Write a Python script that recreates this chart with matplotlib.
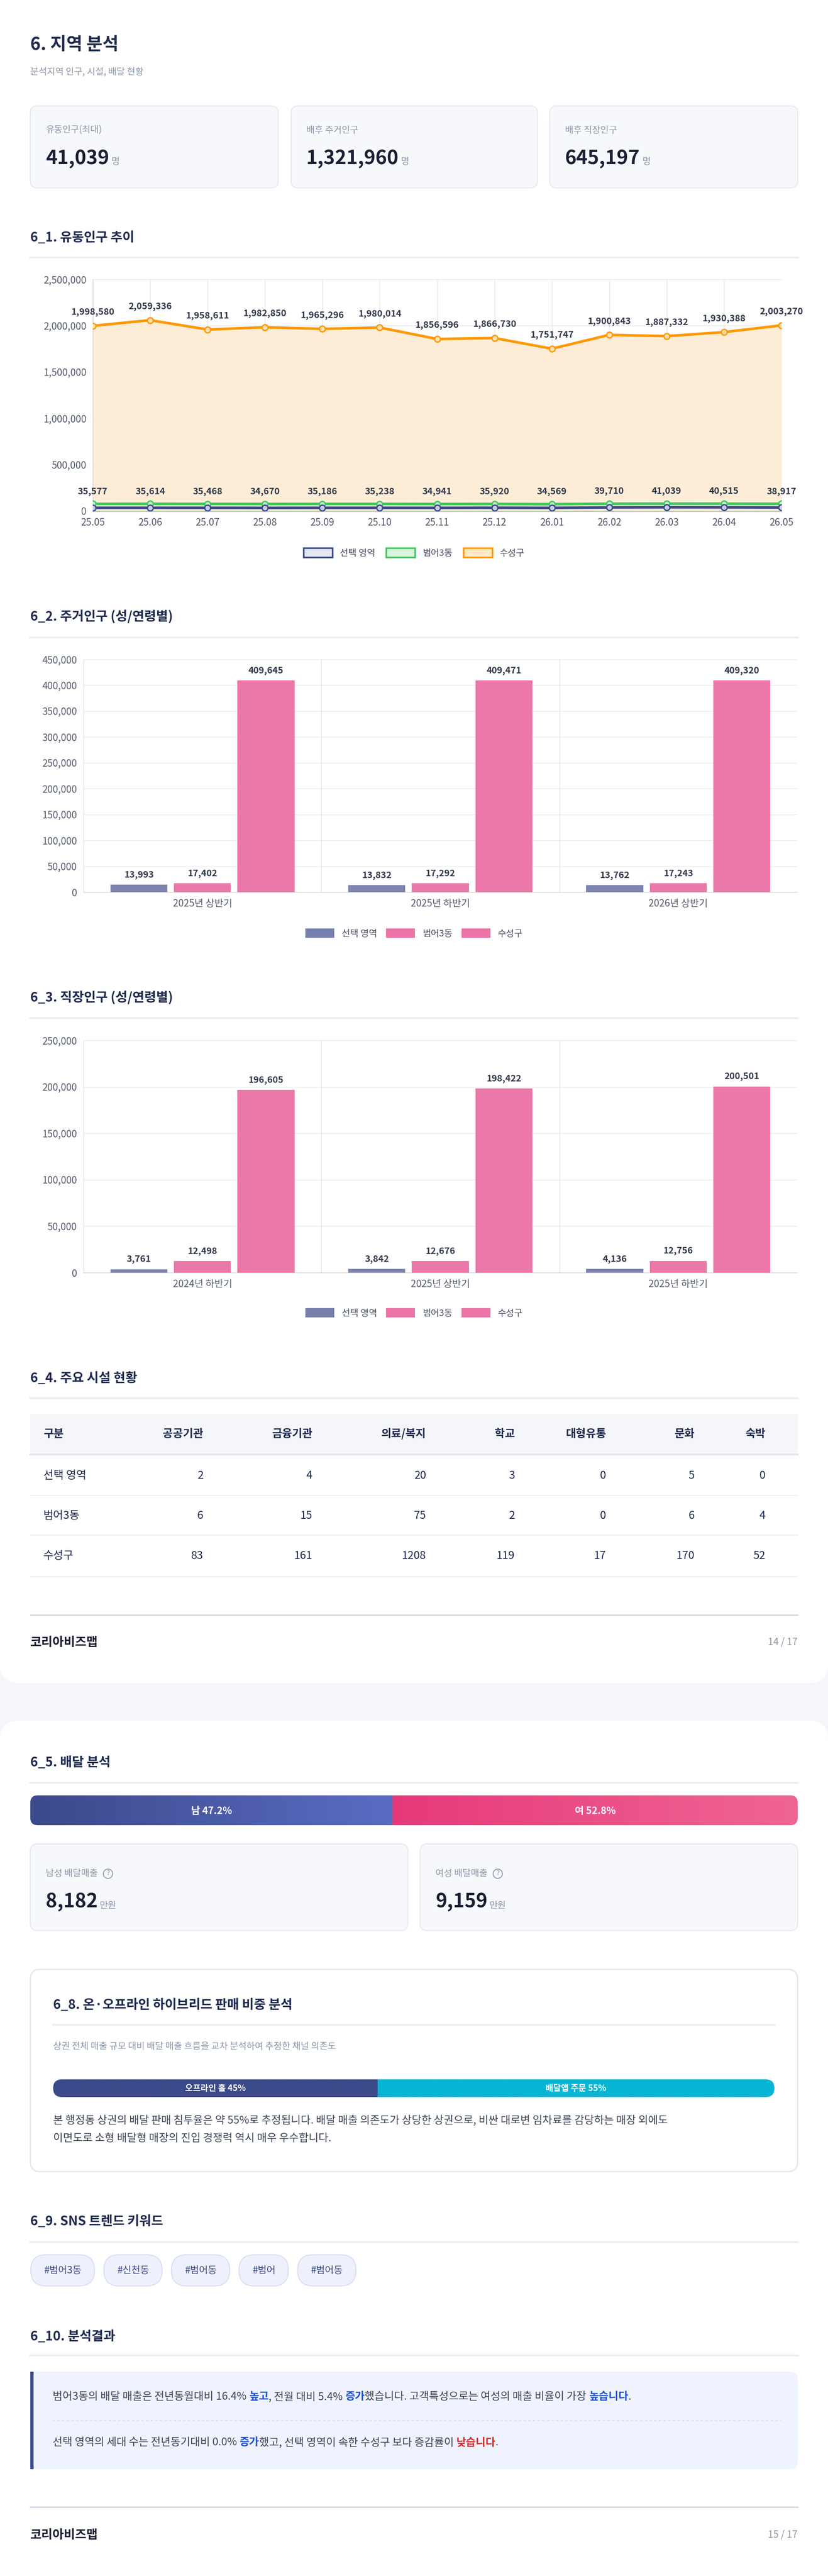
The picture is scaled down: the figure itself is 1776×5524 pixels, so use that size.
import matplotlib
matplotlib.use("Agg")
import matplotlib.pyplot as plt
import numpy as np
from matplotlib.patches import FancyBboxPatch, Rectangle, Patch
from matplotlib.ticker import FuncFormatter, MultipleLocator

plt.rcParams['font.family'] = ['Noto Sans CJK KR', 'DejaVu Sans']

W, H = 1776, 5524
# ---------------- data ----------------
stat_labels = ['유동인구(최대)', '배후 주거인구', '배후 직장인구']
stat_values = ['41,039', '1,321,960', '645,197']

months = ['25.05', '25.06', '25.07', '25.08', '25.09', '25.10', '25.11', '25.12',
          '26.01', '26.02', '26.03', '26.04', '26.05']
suseong_float = [1998580, 2059336, 1958611, 1982850, 1965296, 1980014, 1856596, 1866730,
                 1751747, 1900843, 1887332, 1930388, 2003270]
beomeo_float = [78000, 78500, 77800, 76900, 77500, 77600, 76400, 77200, 74800, 79800, 80500, 80100, 79000]
select_float = [35577, 35614, 35468, 34670, 35186, 35238, 34941, 35920, 34569, 39710, 41039, 40515, 38917]

series_names = ['선택 영역', '범어3동', '수성구']
res_periods = ['2025년 상반기', '2025년 하반기', '2026년 상반기']
res_select = [13993, 13832, 13762]
res_beomeo = [17402, 17292, 17243]
res_suseong = [409645, 409471, 409320]

work_periods = ['2024년 하반기', '2025년 상반기', '2025년 하반기']
work_select = [3761, 3842, 4136]
work_beomeo = [12498, 12676, 12756]
work_suseong = [196605, 198422, 200501]

fac_cols = ['공공기관', '금융기관', '의료/복지', '학교', '대형유통', '문화', '숙박']
fac_rows = ['선택 영역', '범어3동', '수성구']
fac_vals = [[2, 4, 20, 3, 0, 5, 0],
            [6, 15, 75, 2, 0, 6, 4],
            [83, 161, 1208, 119, 17, 170, 52]]

male_pct, female_pct = 47.2, 52.8
male_sales, female_sales = '8,182', '9,159'
offline_pct, app_pct = 45, 55
sns_tags = ['#범어3동', '#신천동', '#범어동', '#범어', '#범어동']

# ---------------- style ----------------
NAVY = '#3b4a8a'
DARK = '#1e2a4f'
GRAY = '#8a94a6'
TXT = '#3a4256'
ORANGE = '#ff9800'
GREEN = '#3ec95c'
SEL = '#7880ad'
PINK = '#ec74a6'

fig = plt.figure(figsize=(W / 100, H / 100), dpi=100)
fig.patch.set_facecolor('#f4f6fa')
L = fig.add_axes([0, 0, 1, 1])
L.set_xlim(0, W); L.set_ylim(H, 0); L.axis('off')


def rbox(x0, y0, x1, y1, fc, ec='none', r=18, lw=1.5, z=1):
    p = FancyBboxPatch((x0, y0), x1 - x0, y1 - y0, boxstyle=f"round,pad=0,rounding_size={r}",
                       fc=fc, ec=ec, lw=lw, zorder=z, mutation_aspect=1)
    L.add_patch(p)
    return p


def T(x, y, s, size, color=TXT, weight='normal', ha='left', va='center', z=5):
    return L.text(x, y, s, fontsize=size, color=color, fontweight=weight, ha=ha, va=va, zorder=z)


def section(y, title, x0=65, x1=1711, ry=None):
    T(x0, y, title, 20, DARK, 'bold')
    L.plot([x0, x1], [ry, ry], color='#eceef3', lw=3, zorder=3)


def add_ax(x0, y0, x1, y1):
    return fig.add_axes([x0 / W, 1 - y1 / H, (x1 - x0) / W, (y1 - y0) / H])


comma = FuncFormatter(lambda v, p: f'{int(v):,}')

# cards
rbox(0, -40, W, 3609, 'white', r=40)
rbox(0, 3690, W, H + 40, 'white', r=40)

T(65, 95, '6. 지역 분석', 27, DARK, 'bold')
T(65, 155, '분석지역 인구, 시설, 배달 현황', 14, GRAY)
cards = [(65, 597), (624, 1153), (1179, 1711)]
for (a, b), lab, val in zip(cards, stat_labels, stat_values):
    rbox(a, 227, b, 403, '#f7f8fc', '#e6e9f0', r=16)
    T(a + 33, 279, lab, 14, GRAY)
    t = T(a + 33, 340, val, 30, '#1a1f33', 'bold')
    fig.canvas.draw()
    bb = t.get_window_extent()
    T(a + 33 + bb.width + 4, 346, '명', 14, GRAY)

# ---------------- 6_1 line chart ----------------
section(510, '6_1. 유동인구 추이', ry=552)
ax = add_ax(199, 599, 1676, 1096)
x = np.arange(len(months))
ax.fill_between(x, suseong_float, color='#fdebd3', alpha=0.9, zorder=1)
ax.plot(x, suseong_float, color=ORANGE, lw=4, marker='o', ms=9, mfc='#ffe0b0', mec=ORANGE, mew=2, zorder=4)
ax.plot(x, beomeo_float, color=GREEN, lw=4, marker='o', ms=9, mfc='#c8f0d0', mec=GREEN, mew=2, zorder=4)
ax.plot(x, select_float, color=NAVY, lw=4, marker='o', ms=9, mfc='#c8cde8', mec=NAVY, mew=2, zorder=5)
for i, v in enumerate(suseong_float):
    ax.annotate(f'{v:,}', (i, v), xytext=(0, 14), textcoords='offset points', ha='center', va='bottom',
                fontsize=14, fontweight='bold', color='#333a4d', annotation_clip=False)
for i, v in enumerate(select_float):
    ax.annotate(f'{v:,}', (i, beomeo_float[i]), xytext=(0, 12), textcoords='offset points', ha='center',
                va='bottom', fontsize=14, fontweight='bold', color='#333a4d', annotation_clip=False)
ax.set_xlim(0, len(months) - 1)
ax.set_ylim(0, 2500000)
ax.yaxis.set_major_locator(MultipleLocator(500000))
ax.yaxis.set_major_formatter(comma)
ax.set_xticks(x); ax.set_xticklabels(months)
ax.grid(True, color='#e6e6e6', lw=1)
ax.set_axisbelow(True)
ax.tick_params(labelsize=15, colors='#555c6e', length=0, pad=10)
for s in ['top', 'right']:
    ax.spines[s].set_visible(False)
ax.spines['left'].set_color('#d0d0d0'); ax.spines['bottom'].set_color('#888888')
ax.set_facecolor('white')
hand = [Patch(fc='#e4e7f3', ec=NAVY, lw=2.5), Patch(fc='#d6f5dc', ec=GREEN, lw=2.5),
        Patch(fc='#ffe9c8', ec=ORANGE, lw=2.5)]
fig.legend(hand, series_names, loc='center', bbox_to_anchor=(888 / W, 1 - 1186 / H), ncol=3, frameon=False,
           fontsize=14, handlelength=3.2, handleheight=1.2, columnspacing=1.2, labelcolor='#444b5e')


# ---------------- bar charts ----------------
def bar_chart(y0, y1, periods, s1, s2, s3, ymax, step, legy):
    ax = add_ax(179, y0, 1710, y1)
    xs = np.arange(len(periods))
    w, off = 0.24, 0.267
    for vals, o, c in [(s1, -off, SEL), (s2, 0, PINK), (s3, off, PINK)]:
        bars = ax.bar(xs + o, vals, width=w, color=c, alpha=0.97, zorder=3)
        for b, v in zip(bars, vals):
            ax.annotate(f'{v:,}', (b.get_x() + w / 2, v), xytext=(0, 8), textcoords='offset points',
                        ha='center', va='bottom', fontsize=14, fontweight='bold', color='#333a4d')
    ax.set_xlim(-0.5, len(periods) - 0.5)
    ax.set_ylim(0, ymax)
    ax.yaxis.set_major_locator(MultipleLocator(step))
    ax.yaxis.set_major_formatter(comma)
    ax.set_xticks(xs); ax.set_xticklabels(periods)
    ax.grid(True, axis='y', color='#e8e8e8', lw=1)
    for b in [0.5, 1.5]:
        ax.axvline(b, color='#e3e3e3', lw=1, zorder=1)
    ax.set_axisbelow(True)
    ax.tick_params(labelsize=15, colors='#555c6e', length=0, pad=10)
    for s in ['top', 'right']:
        ax.spines[s].set_visible(False)
    ax.spines['left'].set_color('#dddddd'); ax.spines['bottom'].set_color('#cccccc')
    hand = [Patch(fc=SEL), Patch(fc=PINK), Patch(fc=PINK)]
    fig.legend(hand, series_names, loc='center', bbox_to_anchor=(888 / W, 1 - legy / H), ncol=3,
               frameon=False, fontsize=14, handlelength=3.2, handleheight=1.2, columnspacing=1.0,
               labelcolor='#444b5e')


section(1323, '6_2. 주거인구 (성/연령별)', ry=1367)
bar_chart(1414, 1913, res_periods, res_select, res_beomeo, res_suseong, 450000, 50000, 2002)
section(2140, '6_3. 직장인구 (성/연령별)', ry=2183)
bar_chart(2231, 2729, work_periods, work_select, work_beomeo, work_suseong, 250000, 50000, 2816)

# ---------------- 6_4 table ----------------
section(2956, '6_4. 주요 시설 현황', ry=2998)
L.add_patch(Rectangle((65, 3032), 1646, 87, fc='#f4f6fa', ec='none', zorder=2))
L.plot([65, 1711], [3119, 3119], color='#e2e6ee', lw=3, zorder=3)
col_r = [436, 670, 914, 1104, 1300, 1490, 1642]
T(93, 3075, '구분', 17, DARK, 'bold')
for cx, c in zip(col_r, fac_cols):
    T(cx, 3075, c, 17, DARK, 'bold', ha='right')
row_y = [3164, 3250, 3336]
sep_y = [3207, 3292, 3381]
for ry, rn, vals, sy in zip(row_y, fac_rows, fac_vals, sep_y):
    T(93, ry, rn, 17, DARK)
    for cx, v in zip(col_r, vals):
        T(cx, ry, str(v), 17, DARK, ha='right')
    L.plot([65, 1711], [sy, sy], color='#eceef3', lw=1.5, zorder=3)
L.plot([65, 1711], [3463, 3463], color='#cfd6e2', lw=2, zorder=3)
T(65, 3522, '코리아비즈맵', 19, '#1a1f33', 'bold')
T(1711, 3522, '14 / 17', 15, GRAY, ha='right')

# ---------------- 6_5 delivery ----------------
section(3780, '6_5. 배달 분석', ry=3823)


def grad_bar(x0, x1, y0, y1, c0, c1, clip):
    g = np.linspace(0, 1, 256)
    a = np.array(matplotlib.colors.to_rgb(c0)); b = np.array(matplotlib.colors.to_rgb(c1))
    img = (a[None, :] * (1 - g[:, None]) + b[None, :] * g[:, None])[None, :, :]
    im = L.imshow(img, extent=(x0, x1, y1, y0), aspect='auto', zorder=3, interpolation='bilinear')
    im.set_clip_path(clip)


split = 65 + (1711 - 65) * male_pct / 100
clip = rbox(65, 3850, 1711, 3914, 'none', r=16, z=2)
grad_bar(65, split, 3850, 3914, '#3b4a8a', '#5b6bc4', clip)
grad_bar(split, 1711, 3850, 3914, '#e6397a', '#f06595', clip)
L.set_xlim(0, W); L.set_ylim(H, 0)
T((65 + split) / 2, 3883, f'남 {male_pct}%', 15, 'white', 'bold', ha='center')
T((split + 1711) / 2, 3883, f'여 {female_pct}%', 15, 'white', 'bold', ha='center')
for (a, b), lab, val in zip([(65, 875), (901, 1711)], ['남성 배달매출', '여성 배달매출'], [male_sales, female_sales]):
    rbox(a, 3954, b, 4140, '#f7f8fc', '#e6e9f0', r=16)
    t = T(a + 33, 4017, lab, 14, GRAY)
    fig.canvas.draw()
    bb = t.get_window_extent()
    T(a + 33 + bb.width + 22, 4017, '?', 10, GRAY, ha='center')
    L.add_patch(matplotlib.patches.Circle((a + 33 + bb.width + 22, 4018), 10, fc='none', ec=GRAY, lw=1.3, zorder=5))
    t = T(a + 33, 4078, val, 30, '#1a1f33', 'bold')
    fig.canvas.draw()
    bb = t.get_window_extent()
    T(a + 33 + bb.width + 4, 4086, '만원', 14, GRAY)

# ---------------- 6_8 ----------------
rbox(65, 4223, 1711, 4657, 'white', '#e3e7ef', r=22, lw=2)
T(114, 4300, '6_8. 온·오프라인 하이브리드 판매 비중 분석', 20, DARK, 'bold')
L.plot([114, 1661], [4342, 4342], color='#eceef3', lw=3, zorder=3)
T(114, 4389, '상권 전체 매출 규모 대비 배달 매출 흐름을 교차 분석하여 추정한 채널 의존도', 14, GRAY)
sp2 = 114 + (1661 - 114) * offline_pct / 100
clip2 = rbox(114, 4459, 1661, 4497, 'none', r=19, z=2)
grad_bar(114, sp2, 4459, 4497, NAVY, NAVY, clip2)
grad_bar(sp2, 1661, 4459, 4497, '#06b6d4', '#06b6d4', clip2)
L.set_xlim(0, W); L.set_ylim(H, 0)
T((114 + sp2) / 2, 4478, f'오프라인 홀 {offline_pct}%', 13, 'white', 'bold', ha='center')
T((sp2 + 1661) / 2, 4478, f'배달앱 주문 {app_pct}%', 13, 'white', 'bold', ha='center')
T(114, 4547, '본 행정동 상권의 배달 판매 침투율은 약 55%로 추정됩니다. 배달 매출 의존도가 상당한 상권으로, 비싼 대로변 임차료를 감당하는 매장 외에도', 16.5, TXT)
T(114, 4586, '이면도로 소형 배달형 매장의 진입 경쟁력 역시 매우 우수합니다.', 16.5, TXT)

# ---------------- 6_9 ----------------
section(4764, '6_9. SNS 트렌드 키워드', ry=4808)
px = 66
for tag in sns_tags:
    t = T(0, 4869, tag, 15, '#3b4a8a')
    fig.canvas.draw()
    wd = t.get_window_extent().width
    t.set_position((px + 28, 4869))
    rbox(px, 4835, px + wd + 56, 4902, '#eef1fc', '#d9def5', r=33, lw=1.5, z=2)
    px += wd + 56 + 20

# ---------------- 6_10 ----------------
section(5011, '6_10. 분석결과', ry=5051)
L.add_patch(FancyBboxPatch((65, 5086), 1646, 209, boxstyle="round,pad=0,rounding_size=16", fc='#eef3fd', ec='none', zorder=2))
L.add_patch(Rectangle((65, 5086), 7, 209, fc=NAVY, ec='none', zorder=3))
L.plot([113, 1675], [5191, 5191], color='#d5dbe8', lw=1.2, ls=(0, (3, 3)), zorder=3)
BLUE, RED = '#1a4fd6', '#e02424'


def rich(y, parts):
    cx = 113
    for s, c, w in parts:
        t = T(cx, y, s, 16.5, c, w)
        fig.canvas.draw()
        cx += t.get_window_extent().width


rich(5140, [('범어3동의 배달 매출은 전년동월대비 16.4% ', TXT, 'normal'), ('높고', BLUE, 'bold'),
            (', 전월 대비 5.4% ', TXT, 'normal'), ('증가', BLUE, 'bold'),
            ('했습니다. 고객특성으로는 여성의 매출 비율이 가장 ', TXT, 'normal'), ('높습니다', BLUE, 'bold'),
            ('.', TXT, 'normal')])
rich(5238, [('선택 영역의 세대 수는 전년동기대비 0.0% ', TXT, 'normal'), ('증가', BLUE, 'bold'),
            ('했고, 선택 영역이 속한 수성구 보다 증감률이 ', TXT, 'normal'), ('낮습니다', RED, 'bold'),
            ('.', TXT, 'normal')])

L.plot([65, 1711], [5376, 5376], color='#cfd6e2', lw=2, zorder=3)
T(65, 5436, '코리아비즈맵', 19, '#1a1f33', 'bold')
T(1711, 5436, '15 / 17', 15, GRAY, ha='right')

fig.savefig('out.png', dpi=100, facecolor=fig.get_facecolor())
